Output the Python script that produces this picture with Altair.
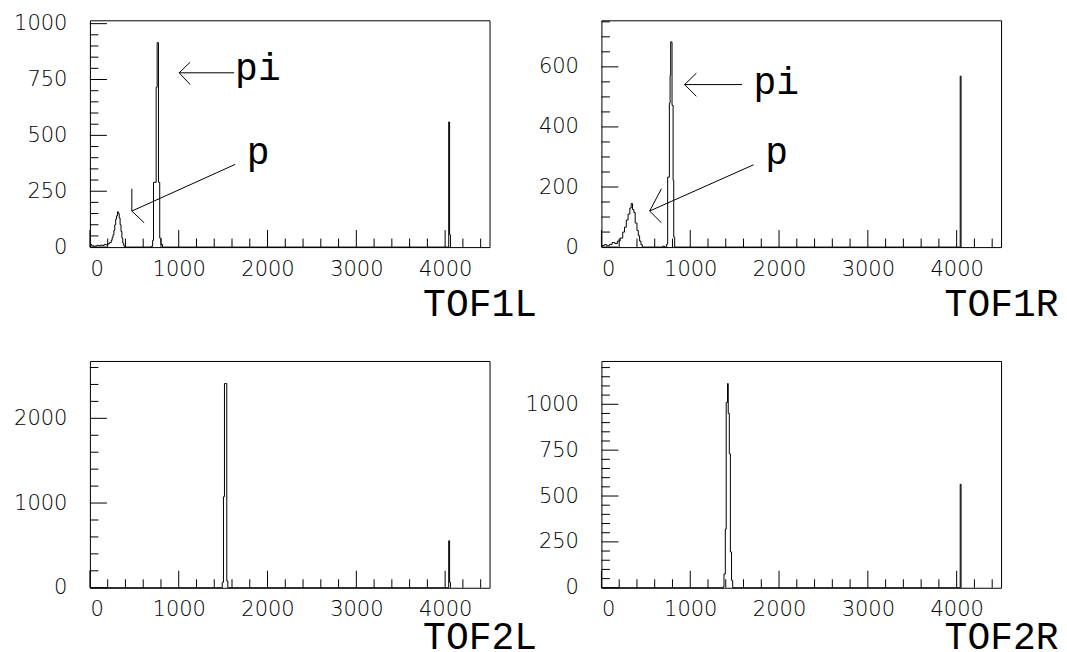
import altair as alt
import pandas as pd

# ---------------- data ----------------
# histogram outlines: bin left edges and counts (step-after)
tof1l_x = [0, 20, 40, 60, 80, 100, 120, 140, 160, 180, 200, 220, 240, 250, 260, 270, 280, 290,
           300, 310, 320, 330, 340, 350, 360, 370, 380, 390, 400,
           690, 706, 716, 746, 757, 772, 786, 800, 818,
           4040, 4050, 4060]
tof1l_y = [12, 6, 4, 5, 8, 6, 9, 7, 12, 10, 15, 20, 30, 42, 55, 75, 100, 125,
           140, 158, 150, 130, 100, 70, 40, 18, 6, 2, 0,
           3, 30, 290, 715, 915, 290, 40, 12, 0,
           560, 55, 0]

tof1r_x = [0, 30, 60, 90, 120, 150, 180, 210, 240, 260, 280, 300, 320, 335, 350, 365, 380,
           400, 415, 430, 445, 460, 690, 710,
           735, 746, 765, 773, 780, 795, 807, 814, 825,
           4040, 4050]
tof1r_y = [5, 8, 4, 9, 15, 12, 20, 30, 50, 66, 90, 110, 130, 145, 125, 115, 80,
           55, 38, 20, 8, 0, 3, 0,
           10, 233, 479, 572, 683, 472, 222, 33, 0,
           569, 0]

tof2l_x = [0, 1490, 1504, 1515, 1541, 1553, 4040, 4050, 4060]
tof2l_y = [0, 65, 1075, 2410, 80, 0, 555, 65, 0]

tof2r_x = [0, 1370, 1380, 1395, 1405, 1420, 1428, 1440, 1452, 1465, 1478, 4040, 4050]
tof2r_y = [0, 5, 75, 320, 1010, 1113, 950, 730, 195, 40, 0, 564, 0]

# axis ranges
x_max = 4500
y_max = {"TOF1L": 1015, "TOF1R": 755, "TOF2L": 2677, "TOF2R": 1236}

# tick values
x_labels = [0, 1000, 2000, 3000, 4000]
x_minor = [200, 400, 600, 800, 1200, 1400, 1600, 1800, 2200, 2400, 2600, 2800,
           3200, 3400, 3600, 3800, 4200, 4400]

y_labels = {
    "TOF1L": [0, 250, 500, 750, 1000],
    "TOF1R": [0, 200, 400, 600],
    "TOF2L": [0, 1000, 2000],
    "TOF2R": [0, 250, 500, 750, 1000],
}
y_minor = {
    "TOF1L": [50, 100, 150, 200, 300, 350, 400, 450, 550, 600, 650, 700, 800, 850, 900, 950],
    "TOF1R": [50, 100, 150, 250, 300, 350, 450, 500, 550, 650, 700, 750],
    "TOF2L": [200, 400, 600, 800, 1200, 1400, 1600, 1800, 2200, 2400, 2600],
    "TOF2R": [50, 100, 150, 200, 300, 350, 400, 450, 550, 600, 650, 700, 800, 850, 900, 950,
              1050, 1100, 1150, 1200],
}

# annotation arrows (segments in data units) and labels
tof1l_seg_x1 = [1005, 1005, 1005, 1635, 472, 472]
tof1l_seg_y1 = [780, 780, 780, 370, 161, 161]
tof1l_seg_x2 = [1624, 1128, 1128, 472, 472, 611]
tof1l_seg_y2 = [780, 827, 728, 161, 261, 109]
tof1l_txt = ["pi", "p"]
tof1l_txt_x = [1635, 1766]
tof1l_txt_y = [746, 370]

tof1r_seg_x1 = [937, 937, 937, 1713, 543, 543]
tof1r_seg_y1 = [541, 541, 541, 274, 120, 120]
tof1r_seg_x2 = [1583, 1069, 1069, 543, 675, 675]
tof1r_seg_y2 = [541, 579, 502, 120, 194, 81]
tof1r_txt = ["pi", "p"]
tof1r_txt_x = [1713, 1845]
tof1r_txt_y = [508, 278]

# ---------------- chart ----------------
W, H = 400, 227
MAJ, MIN = 17, 8.5
LABEL_FONT = "DejaVu Sans"
MONO = "Liberation Mono"


def panel(name, hx, hy, title_x, title_y, seg=None, txt=None):
    xs = alt.Scale(domain=[0, x_max], nice=False, zero=False)
    ys = alt.Scale(domain=[0, y_max[name]], nice=False, zero=False)
    hist_df = pd.DataFrame({"x": hx, "y": hy})

    xaxis = alt.Axis(values=x_labels, format="d", ticks=False, domain=False, grid=False,
                     labelFont=LABEL_FONT, labelFontSize=21, labelFontWeight=200,
                     labelColor="black", labelPadding=11,
                     title=name, titleFont=MONO, titleFontSize=38,
                     titleFontWeight=400, titleColor="black",
                     titleAlign="right", titleBaseline="alphabetic",
                     titleX=title_x, titleY=title_y)
    yaxis = alt.Axis(values=y_labels[name], format="d", ticks=False, domain=False, grid=False,
                     labelFont=LABEL_FONT, labelFontSize=21, labelFontWeight=200,
                     labelColor="black", labelPadding=23, title=None)

    hist = alt.Chart(hist_df).mark_line(
        interpolate="step-after", color="black", strokeWidth=1
    ).encode(
        x=alt.X("x:Q", scale=xs, axis=xaxis),
        y=alt.Y("y:Q", scale=ys, axis=yaxis),
    )

    layers = [hist]

    xt_major = pd.DataFrame({"x": x_labels})
    xt_minor = pd.DataFrame({"x": x_minor})
    yt_major = pd.DataFrame({"y": y_labels[name]})
    yt_minor = pd.DataFrame({"y": y_minor[name]})

    for d, ln in ((xt_major, MAJ), (xt_minor, MIN)):
        layers.append(alt.Chart(d).mark_rule(color="black", strokeWidth=1).encode(
            x=alt.X("x:Q", scale=xs, axis=xaxis),
            y=alt.value(H), y2=alt.value(H - ln)))
    for d, ln in ((yt_major, MAJ), (yt_minor, MIN)):
        layers.append(alt.Chart(d).mark_rule(color="black", strokeWidth=1).encode(
            y=alt.Y("y:Q", scale=ys, axis=yaxis),
            x=alt.value(0), x2=alt.value(ln)))

    if seg is not None:
        sdf = pd.DataFrame({"x": seg[0], "y": seg[1], "x2": seg[2], "y2": seg[3]})
        layers.append(alt.Chart(sdf).mark_rule(color="black", strokeWidth=1).encode(
            x=alt.X("x:Q", scale=xs, axis=xaxis),
            y=alt.Y("y:Q", scale=ys, axis=yaxis),
            x2="x2:Q", y2="y2:Q"))
    if txt is not None:
        tdf = pd.DataFrame({"label": txt[0], "x": txt[1], "y": txt[2]})
        layers.append(alt.Chart(tdf).mark_text(
            align="left", baseline="alphabetic", font=MONO, fontSize=38, color="black"
        ).encode(
            x=alt.X("x:Q", scale=xs, axis=xaxis),
            y=alt.Y("y:Q", scale=ys, axis=yaxis),
            text="label:N"))

    return alt.layer(*layers).properties(width=W, height=H)


p1 = panel("TOF1L", tof1l_x, tof1l_y, 447, 68,
           (tof1l_seg_x1, tof1l_seg_y1, tof1l_seg_x2, tof1l_seg_y2),
           (tof1l_txt, tof1l_txt_x, tof1l_txt_y))
p2 = panel("TOF1R", tof1r_x, tof1r_y, 457, 68,
           (tof1r_seg_x1, tof1r_seg_y1, tof1r_seg_x2, tof1r_seg_y2),
           (tof1r_txt, tof1r_txt_x, tof1r_txt_y))
p3 = panel("TOF2L", tof2l_x, tof2l_y, 447, 61)
p4 = panel("TOF2R", tof2r_x, tof2r_y, 457, 61)

chart = alt.concat(
    p1, p2, p3, p4, columns=2,
    spacing={"row": 114, "column": 112},
    bounds="flush",
).configure_view(
    stroke="black", strokeWidth=1
).configure_axis(
    titleFontWeight=400
).properties(
    padding={"left": 5, "top": 3, "right": 0, "bottom": 0},
    background="white",
)

chart.save("out.html", embed_options={"renderer": "svg", "actions": False})
